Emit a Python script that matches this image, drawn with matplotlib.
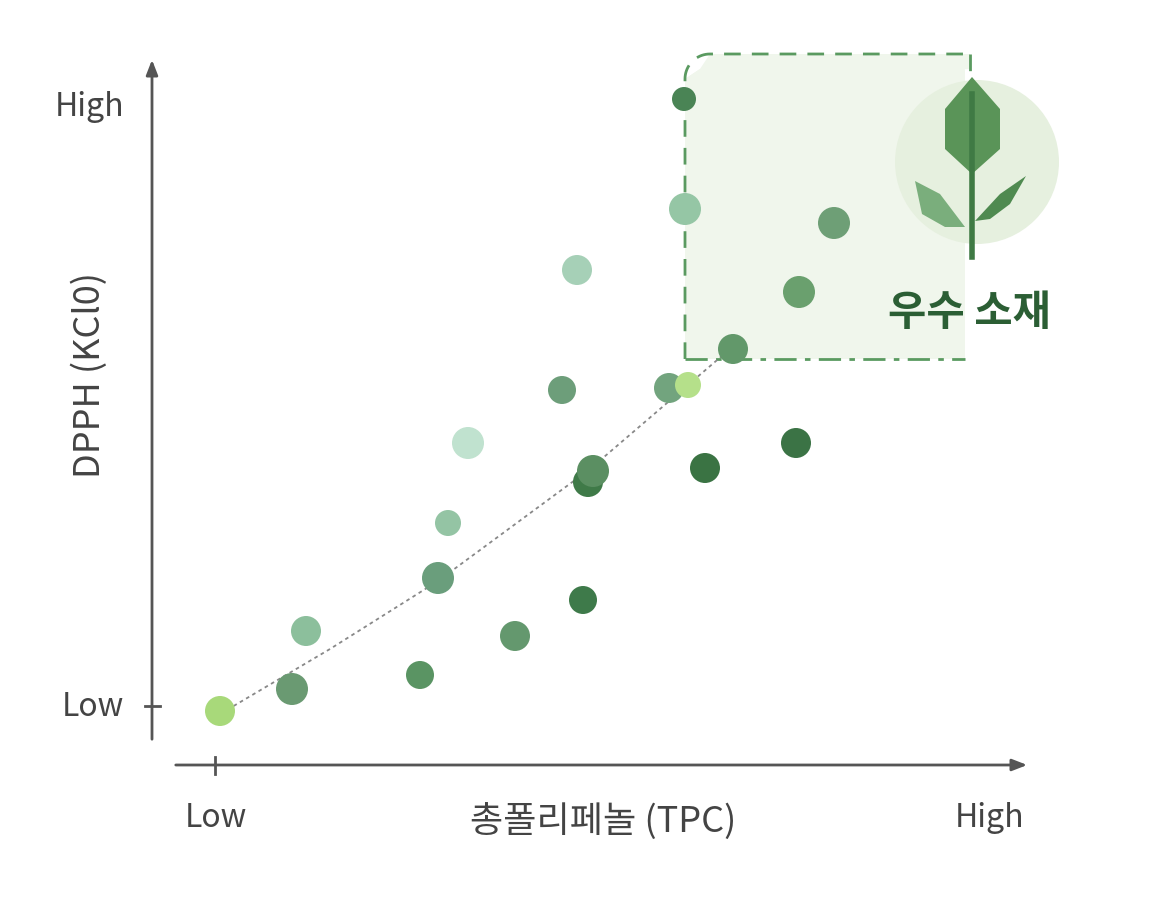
import matplotlib
matplotlib.use("Agg")
import matplotlib.pyplot as plt
import numpy as np
from matplotlib.patches import Circle, Polygon, FancyBboxPatch, PathPatch
from matplotlib.path import Path

plt.rcParams['font.family'] = ['Noto Sans CJK KR', 'DejaVu Sans']

# data (canvas units, y downward)
xs = [220, 292, 306, 420, 438, 448, 468, 515, 562, 577, 583, 588, 593, 669, 688, 684, 685, 705, 733, 796, 799, 834]
ys = [712, 690, 632, 676, 579, 524, 444, 637, 391, 271, 601, 483, 472, 389, 386, 100, 210, 469, 350, 444, 293, 224]
rs = [15, 16, 15, 14, 16, 13, 16, 15, 14, 15, 14, 15, 16, 15, 13, 12, 16, 15, 15, 15, 16, 16]
cols = ['#a8d97a', '#6a9a72', '#8cbf9c', '#5a9463', '#6a9e7c', '#94c4a4', '#c0e2cf', '#64986e',
        '#6d9e7a', '#a6d0b7', '#3e7a4a', '#3f7a48', '#5b8f62', '#72a47e', '#b5e08a', '#4a8455',
        '#95c6a5', '#3a7343', '#62986a', '#3b7345', '#6aa06e', '#6e9f76']
trend_x = [215, 330, 438, 590, 730]
trend_y = [718, 650, 582, 470, 350]

fig = plt.figure(figsize=(11.64, 9.12), dpi=100)
ax = fig.add_axes([0, 0, 1, 1])
ax.set_xlim(0, 1164); ax.set_ylim(912, 0); ax.axis('off')

# highlight box
ax.add_patch(FancyBboxPatch((700, 70), 265, 290, boxstyle="round,pad=0,rounding_size=1",
                            fc='#f0f6ec', ec='none', zorder=0))
ax.add_patch(Polygon([(685, 80), (685, 360), (700, 360), (700, 70)], closed=True, fc='#f0f6ec', ec='none', zorder=0))
ax.add_patch(Polygon([(685, 80), (700, 70), (710, 55), (970, 55), (970, 70)], closed=True, fc='#f0f6ec', ec='none', zorder=0))
ec = '#5a9a60'
t = np.linspace(np.pi, 1.5*np.pi, 20)
bx = list(685 + 25*(1+np.cos(t))); by = list(80 + 25*np.sin(t))
ax.plot([685, 685] + bx + [970], [360, 80] + by + [55], ls=(0, (6, 4)), color=ec, lw=2)
ax.plot([970, 970], [55, 75], ls=(0, (6, 4)), color=ec, lw=2)
ax.plot([685, 965], [360, 360], ls=(0, (8, 3, 2, 3)), color=ec, lw=2)

# circle + leaf icon
ax.add_patch(Circle((977, 163), 82, fc='#e6f0df', ec='none', zorder=1))
ax.add_patch(Polygon([(972, 78), (945, 110), (945, 150), (972, 175), (1000, 150), (1000, 110)],
                     closed=True, fc='#5a9458', ec='none', zorder=2))
ax.add_patch(Polygon([(965, 228), (940, 195), (915, 182), (922, 215), (945, 228)],
                     closed=True, fc='#7aae7c', ec='none', zorder=2))
ax.add_patch(Polygon([(975, 222), (1000, 195), (1026, 177), (1010, 205), (990, 220)],
                     closed=True, fc='#4f8a50', ec='none', zorder=2))
ax.plot([972, 972], [95, 258], color='#3f7a44', lw=4, zorder=3)
ax.text(970, 313, '우수 소재', fontsize=30, fontweight='bold', color='#2b5e34', ha='center', va='center', zorder=4)

# trend
tx = np.linspace(215, 730, 100)
ty = np.interp(tx, trend_x, trend_y)
ax.plot(tx, ty, ls=(0, (2, 2)), color='#888888', lw=1.3, zorder=3)

# points
for x, y, r, c in zip(xs, ys, rs, cols):
    ax.add_patch(Circle((x, y), r, fc=c, ec='none', zorder=5))

# axes
ac = '#555555'
ax.annotate('', xy=(152, 58), xytext=(152, 743),
            arrowprops=dict(arrowstyle='-|>,head_width=0.35,head_length=0.9', color=ac, lw=2))
ax.annotate('', xy=(1030, 766), xytext=(173, 766),
            arrowprops=dict(arrowstyle='-|>,head_width=0.35,head_length=0.9', color=ac, lw=2))
ax.plot([215, 215], [758, 775], color=ac, lw=2)
ax.plot([145, 160], [707, 707], color=ac, lw=2)

tc = '#444444'
ax.text(90, 107, 'High', fontsize=23, color=tc, ha='center', va='center')
ax.text(93, 707, 'Low', fontsize=23, color=tc, ha='center', va='center')
ax.text(216, 818, 'Low', fontsize=23, color=tc, ha='center', va='center')
ax.text(990, 818, 'High', fontsize=23, color=tc, ha='center', va='center')
ax.text(603, 822, '총폴리페놀 (TPC)', fontsize=26, color=tc, ha='center', va='center')
ax.text(90, 375, 'DPPH (KCl0)', fontsize=26, color=tc, ha='center', va='center', rotation=90)

fig.savefig('out.png', dpi=100)
